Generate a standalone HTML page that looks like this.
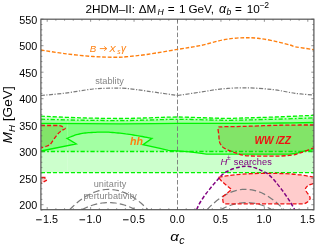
<!DOCTYPE html>
<html><head><meta charset="utf-8"><title>2HDM-II</title>
<style>html,body{margin:0;padding:0;background:#fff;width:332px;height:246px;overflow:hidden;font-family:"Liberation Sans",sans-serif}</style>
</head><body>
<svg width="332" height="246" viewBox="0 0 332 246" style="position:absolute;left:0;top:0;opacity:0.999;will-change:transform">
<defs><clipPath id="cp"><rect x="40.9" y="19.2" width="273.0" height="190.5"/></clipPath></defs>
<rect width="332" height="246" fill="#fff"/>
<g clip-path="url(#cp)" fill="none" stroke-linecap="butt">
<path d="M40.9,125.5 C42.6,125.5 48.0,125.5 51.0,125.5 C54.0,125.5 56.9,125.4 58.8,125.6 C60.6,125.8 61.0,126.0 62.1,126.5 C63.2,127.0 65.4,127.8 65.3,128.5 C65.2,129.2 62.7,129.7 61.4,130.7 C60.1,131.7 58.8,132.8 57.5,134.3 C56.2,135.8 54.8,137.9 53.6,139.5 C52.4,141.1 51.5,143.0 50.4,144.1 C49.3,145.2 48.7,145.3 47.1,146.0 C45.5,146.7 41.9,147.7 40.9,148.0 Z" fill="#ff0000" fill-opacity="0.2" stroke="none"/>
<path d="M313.9,125.0 C309.9,125.0 297.3,125.0 290.0,125.1 C282.7,125.2 276.7,125.3 270.0,125.5 C263.3,125.7 255.8,126.0 250.0,126.2 C244.2,126.4 239.7,126.5 235.0,126.6 C230.3,126.7 224.8,126.6 222.0,126.8 C219.2,127.0 218.7,126.4 218.2,127.8 C217.7,129.2 218.6,132.7 218.8,135.0 C219.0,137.3 219.1,139.9 219.4,141.5 C219.7,143.1 219.9,143.3 220.6,144.3 C221.2,145.3 221.8,146.4 223.3,147.5 C224.9,148.6 227.7,149.9 229.9,150.8 C232.1,151.8 234.3,152.5 236.5,153.2 C238.7,153.9 240.6,154.7 243.1,155.2 C245.6,155.7 246.9,155.8 251.4,156.0 C255.9,156.2 265.0,156.1 270.0,156.1 C275.0,156.1 278.0,156.2 281.6,156.0 C285.2,155.8 288.8,155.6 291.5,155.2 C294.2,154.8 295.9,154.2 298.1,153.6 C300.3,152.9 302.1,152.3 304.7,151.3 C307.3,150.3 312.4,148.4 313.9,147.8 Z" fill="#ff0000" fill-opacity="0.2" stroke="none"/>
<path d="M218.5,177.3 C222,176.6 225,176.2 228.3,175.7 C236,174.5 250,173.3 265,173.3 C280,173.3 292,173.8 300,174.8 C305,175.5 310,176.5 314.5,177.4 L314.5,183.4 C311,184.3 308.5,185 307.2,186.2 C305,188 305,189.5 306.3,191.5 C307.5,193.5 310.4,196.5 310.1,198.6 C309.8,200.6 307,202.6 304.2,203.8 L225.6,203.8 C223.5,203.5 223,202.5 222.9,200.5 C222.7,198.8 222.3,197.3 223.2,196.3 L231.6,189.6 L221.8,181.4 Z" fill="#ff0000" fill-opacity="0.2" stroke="none"/>
<path d="M40.9,177.4 L44.8,177.5 L46.9,180.1 L43.6,181.8 L40.9,183.4 Z" fill="#ff0000" fill-opacity="0.2" stroke="none"/>
<path d="M40.9,116.2 C47.4,116.5 66.8,117.4 80.0,117.8 C93.2,118.2 108.3,118.5 120.0,118.5 C131.7,118.5 140.4,118.0 150.0,117.8 C159.6,117.5 167.5,117.0 177.5,117.0 C187.5,117.0 201.6,117.8 210.0,118.0 C218.4,118.2 222.2,118.4 228.0,118.4 C233.8,118.4 239.7,118.1 245.0,117.9 C250.3,117.8 254.2,117.7 260.0,117.5 C265.8,117.3 273.3,117.1 280.0,116.8 C286.7,116.5 294.4,116.2 300.0,115.9 C305.6,115.7 311.6,115.4 313.9,115.3 L313.9,172.6 L40.9,172.6 Z" fill="#00ff00" fill-opacity="0.2" stroke="none"/>
<path d="M40.9,119.2 C47.4,119.4 66.8,120.0 80.0,120.2 C93.2,120.4 108.3,120.6 120.0,120.6 C131.7,120.6 140.4,120.2 150.0,120.0 C159.6,119.8 167.5,119.3 177.5,119.3 C187.5,119.3 201.6,119.8 210.0,120.0 C218.4,120.2 222.2,120.3 228.0,120.3 C233.8,120.3 239.7,120.1 245.0,120.0 C250.3,119.9 254.2,119.8 260.0,119.6 C265.8,119.4 273.3,119.3 280.0,119.1 C286.7,118.9 294.4,118.6 300.0,118.4 C305.6,118.2 311.6,118.0 313.9,117.9 L313.9,151.5 L40.9,151.5 Z" fill="#00ff00" fill-opacity="0.2" stroke="none"/>
<path d="M40.9,123.3 C54.1,123.4 97.2,123.8 120.0,123.8 C142.8,123.8 156.7,123.5 177.5,123.4 C198.3,123.3 227.9,123.4 245.0,123.3 C262.1,123.2 268.5,123.1 280.0,123.0 C291.5,122.9 308.2,122.6 313.9,122.5 L313.9,149.6 L304.7,150.8 L298.1,152.9 L289.8,154.1 L265.0,154.2 L206.4,154.2 L199.7,153.2 L189.8,151.9 L176.6,150.9 L168.3,150.3 L160.0,148.3 L143.0,144.7 L152.0,138.4 L150.7,138.2 L149.0,137.8 L146.9,137.4 L144.6,137.0 L142.2,136.5 L139.8,136.1 L137.4,135.7 L135.3,135.3 L133.3,135.0 L131.4,134.7 L129.4,134.4 L127.5,134.1 L125.7,133.9 L123.8,133.6 L121.9,133.4 L120.0,133.2 L118.1,133.0 L116.2,132.8 L114.4,132.6 L112.5,132.5 L110.6,132.4 L108.7,132.2 L106.9,132.2 L105.0,132.1 L103.1,132.1 L101.2,132.1 L99.2,132.1 L97.3,132.2 L95.4,132.3 L93.5,132.4 L91.7,132.5 L90.0,132.6 L88.3,132.7 L86.8,132.9 L85.2,133.0 L83.8,133.2 L82.3,133.4 L80.9,133.7 L79.4,134.0 L78.0,134.3 L76.5,134.7 L74.9,135.2 L73.3,135.8 L71.8,136.4 L70.3,137.0 L69.0,137.5 L67.8,138.0 L67.0,138.3 L76.3,144.0 L40.9,151.0 Z" fill="#00ff00" fill-opacity="0.2" stroke="none"/>
<path d="M67.6,116.5 V172.5 M222,174 V203.5" stroke="#ffffff" stroke-opacity="0.35" stroke-width="0.5"/>
<line x1="177.5" y1="19.2" x2="177.5" y2="209.7" stroke="#777" stroke-width="0.9" stroke-dasharray="4.5 2.2"/>
<path d="M69.6,209.7 L72.9,206.5 L76.1,203.5 L79.4,200.8 L82.7,198.4 L85.9,196.3 L89.2,194.5 L92.5,192.9 L95.7,191.7 L99.0,190.7 L102.3,190.0 L105.5,189.5 L108.8,189.4 L112.1,189.5 L115.3,190.0 L118.6,190.7 L121.9,191.7 L125.1,192.9 L128.4,194.5 L131.7,196.3 L134.9,198.4 L138.2,200.8 L141.5,203.5 L144.7,206.5 L148.0,209.7" stroke="#7a7a7a" stroke-width="1.2" stroke-dasharray="6.6 3.2"/>
<path d="M81.9,209.7 L84.1,208.6 L86.4,207.5 L88.6,206.6 L90.8,205.8 L93.0,205.0 L95.3,204.4 L97.5,203.8 L99.7,203.4 L102.0,203.0 L104.2,202.8 L106.4,202.6 L108.7,202.6 L110.9,202.6 L113.1,202.8 L115.3,203.0 L117.6,203.4 L119.8,203.8 L122.0,204.4 L124.3,205.0 L126.5,205.8 L128.7,206.6 L130.9,207.5 L133.2,208.6 L135.4,209.7" stroke="#7a7a7a" stroke-width="1.2" stroke-dasharray="6.6 3.2"/>
<path d="M207.0,209.7 L210.2,206.4 L213.4,203.5 L216.6,200.8 L219.8,198.4 L223.0,196.2 L226.2,194.4 L229.4,192.8 L232.6,191.6 L235.8,190.6 L239.0,189.9 L242.2,189.4 L245.4,189.3 L248.7,189.4 L251.9,189.9 L255.1,190.6 L258.3,191.6 L261.5,192.8 L264.7,194.4 L267.9,196.2 L271.1,198.4 L274.3,200.8 L277.5,203.5 L280.7,206.4 L283.9,209.7" stroke="#7a7a7a" stroke-width="1.2" stroke-dasharray="6.6 3.2"/>
<path d="M220.7,209.7 L222.8,208.6 L225.0,207.5 L227.1,206.6 L229.2,205.8 L231.4,205.0 L233.5,204.4 L235.7,203.8 L237.8,203.4 L239.9,203.0 L242.1,202.8 L244.2,202.6 L246.3,202.6 L248.5,202.6 L250.6,202.8 L252.8,203.0 L254.9,203.4 L257.0,203.8 L259.2,204.4 L261.3,205.0 L263.4,205.8 L265.6,206.6 L267.7,207.5 L269.9,208.6 L272.0,209.7" stroke="#7a7a7a" stroke-width="1.2" stroke-dasharray="6.6 3.2"/>
<path d="M40.9,95.5 C44.8,95.1 55.8,94.3 64.5,93.2 C73.2,92.1 85.4,89.8 93.0,89.0 C100.6,88.2 104.5,88.3 110.0,88.2 C115.5,88.1 119.6,87.9 126.0,88.4 C132.4,88.9 139.9,90.1 148.5,91.3 C157.1,92.5 172.7,94.8 177.5,95.5" stroke="#7a7a7a" stroke-width="1.2" stroke-dasharray="4 1.5 1.2 1.5"/>
<path d="M177.5,95.5 C181.2,95.0 192.6,93.3 200.0,92.2 C207.4,91.1 214.5,89.6 222.0,88.9 C229.5,88.2 236.5,87.7 245.0,87.8 C253.5,87.9 264.7,88.7 273.0,89.6 C281.3,90.5 288.2,92.4 295.0,93.3 C301.8,94.2 310.8,94.8 313.9,95.1" stroke="#7a7a7a" stroke-width="1.2" stroke-dasharray="4 1.5 1.2 1.5"/>
<path d="M40.9,50.0 C44.8,50.6 55.8,52.5 64.5,53.6 C73.2,54.7 84.6,55.9 93.0,56.5 C101.4,57.1 109.5,57.2 115.0,57.2 C120.5,57.2 120.4,57.3 126.0,56.8 C131.6,56.3 139.9,55.4 148.5,54.2 C157.1,53.0 168.9,50.8 177.5,49.4 C186.1,48.0 192.6,47.1 200.0,45.6 C207.4,44.1 216.3,41.3 222.0,40.1 C227.7,38.9 230.0,38.7 234.0,38.3 C238.0,37.9 241.8,37.7 245.8,37.7 C249.8,37.7 253.5,37.8 258.0,38.3 C262.5,38.8 267.7,39.7 273.0,40.8 C278.3,41.9 286.0,43.9 289.6,44.9 C293.2,45.9 292.8,46.3 294.5,46.7 C296.2,47.1 296.8,47.0 300.0,47.5 C303.2,48.0 311.6,49.3 313.9,49.7" stroke="#ff7f0e" stroke-width="1.4" stroke-dasharray="3.8 1.8"/>
<path d="M40.9,116.2 C47.4,116.5 66.8,117.4 80.0,117.8 C93.2,118.2 108.3,118.5 120.0,118.5 C131.7,118.5 140.4,118.0 150.0,117.8 C159.6,117.5 167.5,117.0 177.5,117.0 C187.5,117.0 201.6,117.8 210.0,118.0 C218.4,118.2 222.2,118.4 228.0,118.4 C233.8,118.4 239.7,118.1 245.0,117.9 C250.3,117.8 254.2,117.7 260.0,117.5 C265.8,117.3 273.3,117.1 280.0,116.8 C286.7,116.5 294.4,116.2 300.0,115.9 C305.6,115.7 311.6,115.4 313.9,115.3" stroke="#00f400" stroke-width="1.3" stroke-dasharray="4.1 1.9"/>
<path d="M40.9,172.6 L313.9,172.6" stroke="#00f400" stroke-width="1.3" stroke-dasharray="4.1 1.9"/>
<path d="M40.9,119.2 C47.4,119.4 66.8,120.0 80.0,120.2 C93.2,120.4 108.3,120.6 120.0,120.6 C131.7,120.6 140.4,120.2 150.0,120.0 C159.6,119.8 167.5,119.3 177.5,119.3 C187.5,119.3 201.6,119.8 210.0,120.0 C218.4,120.2 222.2,120.3 228.0,120.3 C233.8,120.3 239.7,120.1 245.0,120.0 C250.3,119.9 254.2,119.8 260.0,119.6 C265.8,119.4 273.3,119.3 280.0,119.1 C286.7,118.9 294.4,118.6 300.0,118.4 C305.6,118.2 311.6,118.0 313.9,117.9" stroke="#00f400" stroke-width="1.3" stroke-dasharray="4.3 1.9 1.8 1.9"/>
<path d="M40.9,151.5 L313.9,151.5" stroke="#00f400" stroke-width="1.3" stroke-dasharray="4.3 1.9 1.8 1.9"/>
<path d="M40.9,123.3 C54.1,123.4 97.2,123.8 120.0,123.8 C142.8,123.8 156.7,123.5 177.5,123.4 C198.3,123.3 227.9,123.4 245.0,123.3 C262.1,123.2 268.5,123.1 280.0,123.0 C291.5,122.9 308.2,122.6 313.9,122.5" stroke="#00f400" stroke-width="1.3"/>
<path d="M313.9,149.6 L304.7,150.8 L298.1,152.9 L289.8,154.1 L265.0,154.2 L206.4,154.2 L199.7,153.2 L189.8,151.9 L176.6,150.9 L168.3,150.3 L160.0,148.3 L143.0,144.7 L152.0,138.4 L150.7,138.2 L149.0,137.8 L146.9,137.4 L144.6,137.0 L142.2,136.5 L139.8,136.1 L137.4,135.7 L135.3,135.3 L133.3,135.0 L131.4,134.7 L129.4,134.4 L127.5,134.1 L125.7,133.9 L123.8,133.6 L121.9,133.4 L120.0,133.2 L118.1,133.0 L116.2,132.8 L114.4,132.6 L112.5,132.5 L110.6,132.4 L108.7,132.2 L106.9,132.2 L105.0,132.1 L103.1,132.1 L101.2,132.1 L99.2,132.1 L97.3,132.2 L95.4,132.3 L93.5,132.4 L91.7,132.5 L90.0,132.6 L88.3,132.7 L86.8,132.9 L85.2,133.0 L83.8,133.2 L82.3,133.4 L80.9,133.7 L79.4,134.0 L78.0,134.3 L76.5,134.7 L74.9,135.2 L73.3,135.8 L71.8,136.4 L70.3,137.0 L69.0,137.5 L67.8,138.0 L67.0,138.3 L76.3,144.0 L40.9,151.0" stroke="#00f400" stroke-width="1.3" stroke-linejoin="miter"/>
<path d="M40.9,125.5 C42.6,125.5 48.0,125.5 51.0,125.5 C54.0,125.5 56.9,125.4 58.8,125.6 C60.6,125.8 61.0,126.0 62.1,126.5 C63.2,127.0 65.4,127.8 65.3,128.5 C65.2,129.2 62.7,129.7 61.4,130.7 C60.1,131.7 58.8,132.8 57.5,134.3 C56.2,135.8 54.8,137.9 53.6,139.5 C52.4,141.1 51.5,143.0 50.4,144.1 C49.3,145.2 48.7,145.3 47.1,146.0 C45.5,146.7 41.9,147.7 40.9,148.0" stroke="#ee1111" stroke-width="1.3" stroke-dasharray="4.1 2"/>
<path d="M313.9,125.0 C309.9,125.0 297.3,125.0 290.0,125.1 C282.7,125.2 276.7,125.3 270.0,125.5 C263.3,125.7 255.8,126.0 250.0,126.2 C244.2,126.4 239.7,126.5 235.0,126.6 C230.3,126.7 224.8,126.6 222.0,126.8 C219.2,127.0 218.7,126.4 218.2,127.8 C217.7,129.2 218.6,132.7 218.8,135.0 C219.0,137.3 219.1,139.9 219.4,141.5 C219.7,143.1 219.9,143.3 220.6,144.3 C221.2,145.3 221.8,146.4 223.3,147.5 C224.9,148.6 227.7,149.9 229.9,150.8 C232.1,151.8 234.3,152.5 236.5,153.2 C238.7,153.9 240.6,154.7 243.1,155.2 C245.6,155.7 246.9,155.8 251.4,156.0 C255.9,156.2 265.0,156.1 270.0,156.1 C275.0,156.1 278.0,156.2 281.6,156.0 C285.2,155.8 288.8,155.6 291.5,155.2 C294.2,154.8 295.9,154.2 298.1,153.6 C300.3,152.9 302.1,152.3 304.7,151.3 C307.3,150.3 312.4,148.4 313.9,147.8" stroke="#ee1111" stroke-width="1.3" stroke-dasharray="4.1 2"/>
<path d="M218.5,177.3 C222,176.6 225,176.2 228.3,175.7 C236,174.5 250,173.3 265,173.3 C280,173.3 292,173.8 300,174.8 C305,175.5 310,176.5 314.5,177.4 L314.5,183.4 C311,184.3 308.5,185 307.2,186.2 C305,188 305,189.5 306.3,191.5 C307.5,193.5 310.4,196.5 310.1,198.6 C309.8,200.6 307,202.6 304.2,203.8 L225.6,203.8 C223.5,203.5 223,202.5 222.9,200.5 C222.7,198.8 222.3,197.3 223.2,196.3 L231.6,189.6 L221.8,181.4 Z" stroke="#ee1111" stroke-width="1.3" stroke-dasharray="4.1 2"/>
<path d="M41.2,177.4 L44.8,177.5 L44.9,178.7 M46.9,180.1 L43.6,181.8 M41.9,182.8 L41.2,183.4" stroke="#ee1111" stroke-width="1.4" fill="none"/>
<path d="M196.6,209.7 C197.0,208.8 198.1,206.1 199.0,204.4 C199.9,202.7 201.0,201.0 202.1,199.3 C203.2,197.6 204.6,195.6 205.8,194.0 C207.0,192.4 208.0,191.2 209.3,189.6 C210.6,188.0 212.1,186.1 213.5,184.4 C214.9,182.7 216.4,181.1 217.8,179.5 C219.2,177.9 220.6,176.2 222.1,174.9 C223.6,173.6 225.2,172.5 227.0,171.5 C228.8,170.5 230.8,169.6 233.0,168.8 C235.2,168.0 238.3,167.2 240.4,166.8 C242.5,166.4 243.7,166.3 245.5,166.3 C247.3,166.3 249.1,166.4 251.0,166.8 C252.9,167.2 255.1,167.8 256.9,168.5 C258.7,169.2 260.2,169.9 262.0,170.8 C263.8,171.7 265.9,172.6 267.5,173.7 C269.1,174.8 270.4,176.2 271.8,177.6 C273.2,179.0 274.0,179.8 275.9,182.2 C277.8,184.5 281.0,188.5 283.3,191.7 C285.6,194.9 287.8,198.2 289.7,201.2 C291.6,204.2 293.9,208.3 294.7,209.7" stroke="#800080" stroke-width="1.5" stroke-dasharray="3.9 2"/>
</g>
<path d="M47.19,209.7 v-2.6 M47.19,19.2 v2.6 M55.88,209.7 v-1.5 M55.88,19.2 v1.5 M64.57,209.7 v-1.5 M64.57,19.2 v1.5 M73.26,209.7 v-1.5 M73.26,19.2 v1.5 M81.94,209.7 v-1.5 M81.94,19.2 v1.5 M90.63,209.7 v-2.6 M90.63,19.2 v2.6 M99.32,209.7 v-1.5 M99.32,19.2 v1.5 M108.00,209.7 v-1.5 M108.00,19.2 v1.5 M116.69,209.7 v-1.5 M116.69,19.2 v1.5 M125.38,209.7 v-1.5 M125.38,19.2 v1.5 M134.06,209.7 v-2.6 M134.06,19.2 v2.6 M142.75,209.7 v-1.5 M142.75,19.2 v1.5 M151.44,209.7 v-1.5 M151.44,19.2 v1.5 M160.13,209.7 v-1.5 M160.13,19.2 v1.5 M168.81,209.7 v-1.5 M168.81,19.2 v1.5 M177.50,209.7 v-2.6 M177.50,19.2 v2.6 M186.19,209.7 v-1.5 M186.19,19.2 v1.5 M194.87,209.7 v-1.5 M194.87,19.2 v1.5 M203.56,209.7 v-1.5 M203.56,19.2 v1.5 M212.25,209.7 v-1.5 M212.25,19.2 v1.5 M220.94,209.7 v-2.6 M220.94,19.2 v2.6 M229.62,209.7 v-1.5 M229.62,19.2 v1.5 M238.31,209.7 v-1.5 M238.31,19.2 v1.5 M247.00,209.7 v-1.5 M247.00,19.2 v1.5 M255.68,209.7 v-1.5 M255.68,19.2 v1.5 M264.37,209.7 v-2.6 M264.37,19.2 v2.6 M273.06,209.7 v-1.5 M273.06,19.2 v1.5 M281.74,209.7 v-1.5 M281.74,19.2 v1.5 M290.43,209.7 v-1.5 M290.43,19.2 v1.5 M299.12,209.7 v-1.5 M299.12,19.2 v1.5 M307.81,209.7 v-2.6 M307.81,19.2 v2.6 M40.9,210.00 h1.5 M313.9,210.00 h-1.5 M40.9,204.70 h2.6 M313.9,204.70 h-2.6 M40.9,199.40 h1.5 M313.9,199.40 h-1.5 M40.9,194.10 h1.5 M313.9,194.10 h-1.5 M40.9,188.80 h1.5 M313.9,188.80 h-1.5 M40.9,183.50 h1.5 M313.9,183.50 h-1.5 M40.9,178.20 h2.6 M313.9,178.20 h-2.6 M40.9,172.90 h1.5 M313.9,172.90 h-1.5 M40.9,167.60 h1.5 M313.9,167.60 h-1.5 M40.9,162.30 h1.5 M313.9,162.30 h-1.5 M40.9,157.00 h1.5 M313.9,157.00 h-1.5 M40.9,151.70 h2.6 M313.9,151.70 h-2.6 M40.9,146.40 h1.5 M313.9,146.40 h-1.5 M40.9,141.10 h1.5 M313.9,141.10 h-1.5 M40.9,135.80 h1.5 M313.9,135.80 h-1.5 M40.9,130.50 h1.5 M313.9,130.50 h-1.5 M40.9,125.20 h2.6 M313.9,125.20 h-2.6 M40.9,119.90 h1.5 M313.9,119.90 h-1.5 M40.9,114.60 h1.5 M313.9,114.60 h-1.5 M40.9,109.30 h1.5 M313.9,109.30 h-1.5 M40.9,104.00 h1.5 M313.9,104.00 h-1.5 M40.9,98.70 h2.6 M313.9,98.70 h-2.6 M40.9,93.40 h1.5 M313.9,93.40 h-1.5 M40.9,88.10 h1.5 M313.9,88.10 h-1.5 M40.9,82.80 h1.5 M313.9,82.80 h-1.5 M40.9,77.50 h1.5 M313.9,77.50 h-1.5 M40.9,72.20 h2.6 M313.9,72.20 h-2.6 M40.9,66.90 h1.5 M313.9,66.90 h-1.5 M40.9,61.60 h1.5 M313.9,61.60 h-1.5 M40.9,56.30 h1.5 M313.9,56.30 h-1.5 M40.9,51.00 h1.5 M313.9,51.00 h-1.5 M40.9,45.70 h2.6 M313.9,45.70 h-2.6 M40.9,40.40 h1.5 M313.9,40.40 h-1.5 M40.9,35.10 h1.5 M313.9,35.10 h-1.5 M40.9,29.80 h1.5 M313.9,29.80 h-1.5 M40.9,24.50 h1.5 M313.9,24.50 h-1.5 M40.9,19.20 h2.6 M313.9,19.20 h-2.6" stroke="#666" stroke-width="0.7" fill="none"/>
<rect x="40.9" y="19.2" width="273.0" height="190.5" fill="none" stroke="#555" stroke-width="1.2"/>
<text x="37.3" y="209.0" text-anchor="end" font-family="Liberation Sans, sans-serif" font-size="10.8" fill="#000">200</text>
<text x="37.3" y="182.5" text-anchor="end" font-family="Liberation Sans, sans-serif" font-size="10.8" fill="#000">250</text>
<text x="37.3" y="156.0" text-anchor="end" font-family="Liberation Sans, sans-serif" font-size="10.8" fill="#000">300</text>
<text x="37.3" y="129.5" text-anchor="end" font-family="Liberation Sans, sans-serif" font-size="10.8" fill="#000">350</text>
<text x="37.3" y="103.0" text-anchor="end" font-family="Liberation Sans, sans-serif" font-size="10.8" fill="#000">400</text>
<text x="37.3" y="76.5" text-anchor="end" font-family="Liberation Sans, sans-serif" font-size="10.8" fill="#000">450</text>
<text x="37.3" y="50.0" text-anchor="end" font-family="Liberation Sans, sans-serif" font-size="10.8" fill="#000">500</text>
<text x="37.3" y="23.5" text-anchor="end" font-family="Liberation Sans, sans-serif" font-size="10.8" fill="#000">550</text>
<text x="43.0" y="223" font-family="Liberation Sans, sans-serif" font-size="10.8" fill="#000">1.5</text>
<line x1="36.1" x2="41.7" y1="219.8" y2="219.8" stroke="#000" stroke-width="0.95"/>
<text x="86.4" y="223" font-family="Liberation Sans, sans-serif" font-size="10.8" fill="#000">1.0</text>
<line x1="79.5" x2="85.1" y1="219.8" y2="219.8" stroke="#000" stroke-width="0.95"/>
<text x="129.9" y="223" font-family="Liberation Sans, sans-serif" font-size="10.8" fill="#000">0.5</text>
<line x1="123.0" x2="128.6" y1="219.8" y2="219.8" stroke="#000" stroke-width="0.95"/>
<text x="177.2" y="223" text-anchor="middle" font-family="Liberation Sans, sans-serif" font-size="10.8" fill="#000">0.0</text>
<text x="220.6" y="223" text-anchor="middle" font-family="Liberation Sans, sans-serif" font-size="10.8" fill="#000">0.5</text>
<text x="264.1" y="223" text-anchor="middle" font-family="Liberation Sans, sans-serif" font-size="10.8" fill="#000">1.0</text>
<text x="307.5" y="223" text-anchor="middle" font-family="Liberation Sans, sans-serif" font-size="10.8" fill="#000">1.5</text>
<text x="85.5" y="12.6" font-family="Liberation Sans, sans-serif" font-size="11.75" fill="#000" >2HDM–II:</text>
<text x="138.7" y="12.6" font-family="Liberation Sans, sans-serif" font-size="11.75" fill="#000" >ΔM</text>
<text x="157.6" y="14.6" font-family="Liberation Sans, sans-serif" font-size="8.6" font-style="italic" fill="#000">H</text>
<text x="167.8" y="12.6" font-family="Liberation Sans, sans-serif" font-size="11.75" fill="#000" >=</text>
<text x="178.9" y="12.6" font-family="Liberation Sans, sans-serif" font-size="11.75" fill="#000" >1</text>
<text x="188.4" y="12.6" font-family="Liberation Sans, sans-serif" font-size="11.75" fill="#000" >GeV,</text>
<text x="219" y="12.6" font-family="Liberation Sans, sans-serif" font-size="12.5" font-style="italic" fill="#000">α</text>
<text x="226.6" y="14.6" font-family="Liberation Sans, sans-serif" font-size="8.6" font-style="italic" fill="#000">b</text>
<text x="235" y="12.6" font-family="Liberation Sans, sans-serif" font-size="11.75" fill="#000" >=</text>
<text x="246.7" y="12.6" font-family="Liberation Sans, sans-serif" font-size="11.75" fill="#000" >10</text>
<text x="259.3" y="7.6" font-family="Liberation Sans, sans-serif" font-size="8.6" fill="#000">−2</text>
<text transform="translate(11.8,143.5) rotate(-90)" font-family="Liberation Sans, sans-serif" font-size="13.7" fill="#000"><tspan font-style="italic">M</tspan><tspan font-style="italic" font-size="9.8" dy="3">H</tspan><tspan dy="-3"> [GeV]</tspan></text>
<text transform="translate(170.3,241.3) scale(1.08,0.86)" font-family="Liberation Sans, sans-serif" font-size="14" font-style="italic" fill="#000">α</text>
<text x="179.2" y="244.3" font-family="Liberation Sans, sans-serif" font-size="10.6" font-style="italic" fill="#000">c</text>
<text x="89.8" y="51.8" font-family="Liberation Sans, sans-serif" font-style="italic" fill="#ff7f0e" font-size="9.7">B</text>
<path d="M99.8,48.6 H106.6 M104.2,46.5 L106.8,48.6 L104.2,50.7" stroke="#ff7f0e" stroke-width="0.9" fill="none"/>
<text x="109.3" y="51.8" font-family="Liberation Sans, sans-serif" font-style="italic" fill="#ff7f0e" font-size="9.7">X</text>
<text x="117.2" y="53.5" font-family="Liberation Sans, sans-serif" font-style="italic" fill="#ff7f0e" font-size="6.6">s</text>
<text x="120.9" y="51.7" font-family="Liberation Sans, sans-serif" font-style="italic" fill="#ff7f0e" font-size="10">γ</text>
<text x="95.2" y="83.6" font-family="Liberation Sans, sans-serif" font-size="9.2" fill="#858585">stablity</text>
<text x="93.7" y="186.9" font-family="Liberation Sans, sans-serif" font-size="9.1" fill="#858585" textLength="32.6" lengthAdjust="spacing">unitarity</text>
<text x="83.4" y="198.7" font-family="Liberation Sans, sans-serif" font-size="9.1" fill="#858585" textLength="53.3" lengthAdjust="spacing">perturbativity</text>
<text x="220.4" y="164.6" font-family="Liberation Sans, sans-serif" font-size="9.5" font-style="italic" fill="#800080">H</text>
<text x="227.1" y="160.3" font-family="Liberation Sans, sans-serif" font-size="6.6" fill="#800080">±</text>
<text x="233.8" y="164.5" font-family="Liberation Sans, sans-serif" font-size="9.2" fill="#800080" textLength="38" lengthAdjust="spacing">searches</text>
<text transform="translate(130.0,144.6) scale(1.0,1)" font-family="Liberation Sans, sans-serif" font-weight="bold" font-style="italic" font-size="10.7" fill="#ff7f0e">hh</text>
<text transform="translate(254.4,144.4) scale(1.0,1)" font-family="Liberation Sans, sans-serif" font-weight="bold" font-style="italic" font-size="10.1" fill="#ee1111">WW</text>
<text transform="translate(275.9,144.4) scale(1.0,1)" font-family="Liberation Sans, sans-serif" font-weight="bold" font-style="italic" font-size="10.1" fill="#ee1111">/</text>
<text transform="translate(278.6,144.4) scale(1.0,1)" font-family="Liberation Sans, sans-serif" font-weight="bold" font-style="italic" font-size="10.1" fill="#ee1111">ZZ</text>
</svg>
</body></html>
